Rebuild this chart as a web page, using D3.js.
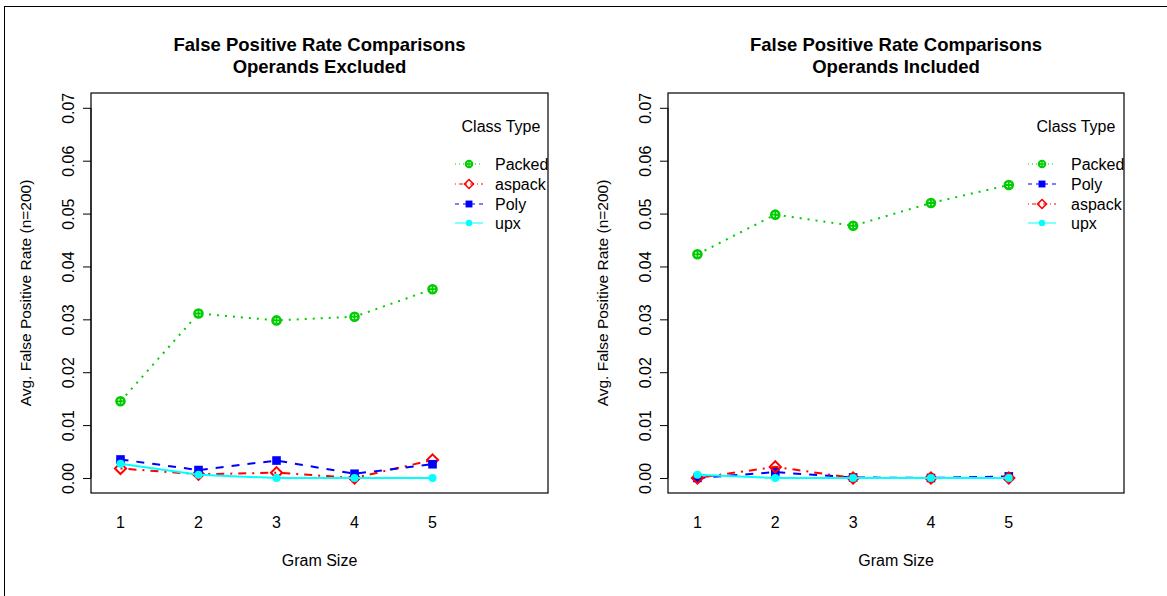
<!DOCTYPE html>
<html>
<head>
<meta charset="utf-8">
<script src="https://cdn.jsdelivr.net/npm/d3@7"></script>
<style>
html,body{margin:0;padding:0;background:#fff;}
svg{display:block;font-family:"Liberation Sans",Arial,Helvetica,sans-serif;}
</style>
</head>
<body>
<svg id="chart" width="1167" height="596"></svg>
<script>
// ---- data ----
const gramSizes = [1, 2, 3, 4, 5];
const yTicks = [0.00, 0.01, 0.02, 0.03, 0.04, 0.05, 0.06, 0.07];

const exclPacked = [0.0145, 0.0311, 0.0298, 0.0305, 0.0357];
const exclAspack = [0.0018, 0.0007, 0.0010, 0.0000, 0.0034];
const exclPoly   = [0.0035, 0.0015, 0.0033, 0.0008, 0.0026];
const exclUpx    = [0.0027, 0.0006, 0.0000, 0.0000, 0.0000];

const inclPacked = [0.0423, 0.0498, 0.0477, 0.0520, 0.0554];
const inclPoly   = [0.0000, 0.0011, 0.0001, 0.0000, 0.0003];
const inclAspack = [0.0000, 0.0021, 0.0000, 0.0000, 0.0000];
const inclUpx    = [0.0006, 0.0000, 0.0000, 0.0000, 0.0000];

const titleLine1 = "False Positive Rate Comparisons";
const subtitles = ["Operands Excluded", "Operands Included"];
const xLabel = "Gram Size";
const yLabel = "Avg. False Positive Rate (n=200)";
const legendTitle = "Class Type";

// ---- styles ----
const styles = {
  Packed: {color: "#00CD00", dash: "2,6", shape: "circplus"},
  aspack: {color: "#FF0000", dash: "2,6,8,6", shape: "diamond"},
  Poly:   {color: "#0000FF", dash: "8,8", shape: "square"},
  upx:    {color: "#00FFFF", dash: null, shape: "dot"}
};

const panels = [
  {left: 91, right: 548, legendX: 455, legendTextX: 495, legendTitleX: 501,
   subtitle: subtitles[0],
   series: [["Packed", exclPacked], ["aspack", exclAspack], ["Poly", exclPoly], ["upx", exclUpx]],
   drawOrder: ["Packed", "aspack", "Poly", "upx"]},
  {left: 668, right: 1124, legendX: 1028, legendTextX: 1071, legendTitleX: 1076,
   subtitle: subtitles[1],
   series: [["Packed", inclPacked], ["Poly", inclPoly], ["aspack", inclAspack], ["upx", inclUpx]],
   drawOrder: ["Packed", "Poly", "aspack", "upx"]}
];

const svg = d3.select("#chart");

// outer frame (only left/top visible in the image)
svg.append("rect").attr("x", 4.5).attr("y", 6.5).attr("width", 1300).attr("height", 800)
  .attr("fill", "none").attr("stroke", "#000").attr("stroke-width", 1);

const TOP = 93, BOTTOM = 493;

function drawSymbol(g, shape, color, cx, cy, scale) {
  const s = scale;
  if (shape === "circplus") {
    g.append("circle").attr("cx", cx).attr("cy", cy).attr("r", 4 * s)
      .attr("fill", "none").attr("stroke", color).attr("stroke-width", 2.6 * s);
    g.append("path").attr("d", `M${cx - 4.5 * s},${cy}H${cx + 4.5 * s}M${cx},${cy - 4.5 * s}V${cy + 4.5 * s}`)
      .attr("stroke", color).attr("stroke-width", 1.8 * s);
  } else if (shape === "diamond") {
    const r = 5.6 * s;
    g.append("path").attr("d", `M${cx},${cy - r}L${cx + r},${cy}L${cx},${cy + r}L${cx - r},${cy}Z`)
      .attr("fill", "none").attr("stroke", color).attr("stroke-width", 2 * s);
  } else if (shape === "square") {
    const h = 4.3 * s;
    g.append("rect").attr("x", cx - h).attr("y", cy - h).attr("width", 2 * h).attr("height", 2 * h)
      .attr("fill", color);
  } else if (shape === "dot") {
    g.append("circle").attr("cx", cx).attr("cy", cy).attr("r", 4 * s).attr("fill", color);
  }
}

panels.forEach(p => {
  const x = d3.scaleLinear().domain([0.622, 6.48]).range([p.left, p.right]);
  const y = d3.scaleLinear().domain([-0.00284, 0.0728]).range([BOTTOM, TOP]);
  const cx = (p.left + p.right) / 2;
  const g = svg.append("g");

  // titles
  g.append("text").attr("x", cx).attr("y", 51).attr("text-anchor", "middle")
    .attr("font-weight", "bold").attr("font-size", 18.5).text(titleLine1);
  g.append("text").attr("x", cx).attr("y", 73).attr("text-anchor", "middle")
    .attr("font-weight", "bold").attr("font-size", 18.5).text(p.subtitle);

  // y axis
  const yAxis = d3.axisLeft(y).tickValues(yTicks).tickFormat(d3.format(".2f")).tickSize(8).tickPadding(0);
  const ya = g.append("g").attr("transform", `translate(${p.left},0)`).call(yAxis);
  ya.select(".domain").attr("d", `M0,${y(0)}V${y(0.07)}`).attr("stroke", "#000");
  ya.selectAll(".tick line").attr("stroke", "#000");
  ya.selectAll(".tick text")
    .attr("x", null).attr("dy", null)
    .attr("transform", "translate(-17,0) rotate(-90)")
    .attr("text-anchor", "middle").attr("y", 0)
    .attr("font-size", 16).attr("fill", "#000")
    .attr("font-family", "Liberation Sans, Arial, sans-serif");

  // x tick labels (no tick marks)
  g.selectAll(".xl").data(gramSizes).enter().append("text")
    .attr("x", d => x(d)).attr("y", 528).attr("text-anchor", "middle")
    .attr("font-size", 16).text(d => d);

  // axis labels
  g.append("text").attr("x", cx).attr("y", 566).attr("text-anchor", "middle")
    .attr("font-size", 16).text(xLabel);
  g.append("text").attr("transform", `translate(${p.left - 60},${(TOP + BOTTOM) / 2}) rotate(-90)`)
    .attr("text-anchor", "middle").attr("font-size", 15.5).text(yLabel);

  // series
  const seriesMap = new Map(p.series);
  const line = d3.line().x((d, i) => x(gramSizes[i])).y(d => y(d));
  p.drawOrder.forEach(name => {
    const st = styles[name];
    const vals = seriesMap.get(name);
    g.append("path").attr("d", line(vals)).attr("fill", "none")
      .attr("stroke", st.color).attr("stroke-width", 2)
      .attr("stroke-dasharray", st.dash);
    vals.forEach((v, i) => drawSymbol(g, st.shape, st.color, x(gramSizes[i]), y(v), 1));
  });

  // box
  g.append("rect").attr("x", p.left).attr("y", TOP).attr("width", p.right - p.left)
    .attr("height", BOTTOM - TOP).attr("fill", "none").attr("stroke", "#000").attr("stroke-width", 1.2);

  // legend
  g.append("text").attr("x", p.legendTitleX).attr("y", 131.5).attr("text-anchor", "middle")
    .attr("font-size", 16).text(legendTitle);
  const legY = [164, 184, 204, 223];
  p.series.forEach(([name], i) => {
    const st = styles[name];
    const ly = legY[i];
    g.append("line").attr("x1", p.legendX).attr("x2", p.legendX + 28)
      .attr("y1", ly).attr("y2", ly).attr("stroke", st.color).attr("stroke-width", 1)
      .attr("stroke-dasharray", st.dash ? st.dash.split(",").map(d => d / 2).join(",") : null);
    drawSymbol(g, st.shape, st.color, p.legendX + 14, ly, 0.8);
    g.append("text").attr("x", p.legendTextX).attr("y", ly + 6)
      .attr("font-size", 16).text(name);
  });
});
</script>
</body>
</html>
